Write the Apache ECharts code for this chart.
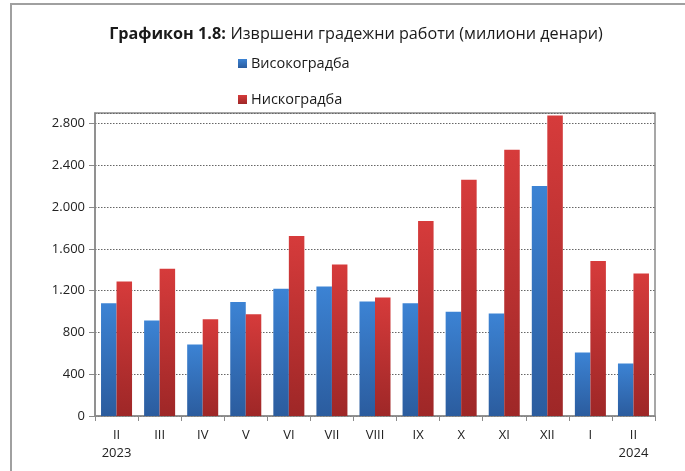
<!DOCTYPE html>
<html><head><meta charset="utf-8">
<script src="https://cdn.jsdelivr.net/npm/echarts@6/dist/echarts.min.js"></script>
<style>html,body{margin:0;padding:0;background:#fff}#c{width:685px;height:471px}</style>
</head><body><div id="c"></div>
<script>
const categories = ['II\n2023','III','IV','V','VI','VII','VIII','IX','X','XI','XII','I','II\n2024'];
const visokogradba = [1080, 914, 684, 1090, 1218, 1240, 1096, 1080, 997, 981, 2202, 607, 502];
const niskogradba = [1288, 1410, 927, 975, 1723, 1451, 1135, 1867, 2260, 2548, 2877, 1483, 1365];
const yTicks = [0, 400, 800, 1200, 1600, 2000, 2400, 2800];

const chart = echarts.init(document.getElementById('c'), null, {renderer:'canvas'});
const fmt = v => String(v).replace(/\B(?=(\d{3})+(?!\d))/g, '.');
const grad = (a,b) => new echarts.graphic.LinearGradient(0,0,0,1,[{offset:0,color:a},{offset:1,color:b}]);
chart.setOption({
  animation:false,
  textStyle:{fontFamily:'Open Sans'},
  graphic:[{type:'rect', shape:{x:11,y:4,width:700,height:500}, style:{fill:'none', stroke:'#a0a0a0', lineWidth:2}, silent:true}],
  title:{
    text:'{b|Графикон 1.8:} {r|Извршени градежни работи (милиони денари)}',
    left:351, textAlign:'center', top:20,
    textStyle:{fontWeight:'normal', rich:{
      b:{fontWeight:'bold', fontSize:16.2, fontFamily:'Open Sans', color:'#1a1a1a'},
      r:{fontWeight:'normal', fontSize:16.2, fontFamily:'Open Sans', color:'#1a1a1a'}
    }}
  },
  legend:{
    orient:'vertical', left:233, top:51, itemGap:21, itemWidth:9, itemHeight:9, icon:'rect',
    textStyle:{fontSize:14.5, color:'#1a1a1a', fontFamily:'Open Sans', padding:[0,0,0,-1]},
    data:['Високоградба','Нискоградба']
  },
  grid:{left:95, right:30, top:113, bottom:55, show:true, borderColor:'#8a8a8a', borderWidth:1.5, backgroundColor:'transparent'},
  xAxis:{
    type:'category', data:categories,
    axisLine:{lineStyle:{color:'#8a8a8a', width:1.5}},
    axisTick:{show:true, alignWithLabel:false, length:5, lineStyle:{color:'#8a8a8a'}},
    axisLabel:{color:'#222', fontSize:13, lineHeight:18, margin:10}
  },
  yAxis:{
    type:'value', min:0, max:2900, interval:400,
    axisLine:{show:true, lineStyle:{color:'#8a8a8a', width:1.5}},
    axisTick:{show:true, length:6, lineStyle:{color:'#8a8a8a'}},
    axisLabel:{color:'#222', fontSize:13, margin:10, showMaxLabel:false, formatter:v => yTicks.includes(v) ? fmt(v) : ''},
    splitLine:{show:true, lineStyle:{color:'#666', type:[1.5,1.5], width:1}}
  },
  series:[
    {name:'Високоградба', type:'bar', data:visokogradba, barGap:'0%', barCategoryGap:'28%',
     itemStyle:{color:grad('#3c83d4','#2b5c9e')}},
    {name:'Нискоградба', type:'bar', data:niskogradba, barGap:'0%', barCategoryGap:'28%',
     itemStyle:{color:grad('#d63b3b','#9e2727')}}
  ]
});
</script></body></html>
